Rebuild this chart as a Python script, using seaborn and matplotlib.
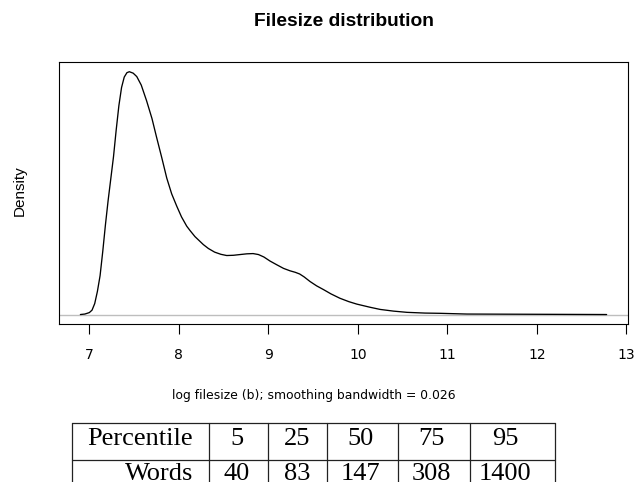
import matplotlib
matplotlib.use("Agg")
import matplotlib.pyplot as plt
import seaborn as sns
import pandas as pd

# density curve of log filesize
log_size = [6.90, 6.95, 7.00, 7.03, 7.06, 7.09, 7.12, 7.15, 7.18, 7.21,
            7.24, 7.27, 7.30, 7.33, 7.36, 7.39, 7.42, 7.447, 7.49, 7.53,
            7.58, 7.64, 7.70, 7.75, 7.81, 7.865, 7.92, 7.977, 8.03, 8.088,
            8.125, 8.18, 8.237, 8.274, 8.33, 8.40, 8.47, 8.535, 8.61, 8.684,
            8.76, 8.83, 8.89, 8.95, 9.02, 9.094, 9.17, 9.243, 9.30, 9.35,
            9.40, 9.466, 9.54, 9.615, 9.70, 9.80, 9.90, 9.988, 10.136, 10.25,
            10.40, 10.55, 10.75, 10.92, 11.22, 11.6, 12.0, 12.4, 12.78]
density = [0.000, 0.002, 0.008, 0.018, 0.045, 0.095, 0.160, 0.260, 0.370, 0.470,
           0.560, 0.650, 0.760, 0.860, 0.935, 0.978, 0.996, 1.000, 0.994, 0.980,
           0.945, 0.880, 0.807, 0.732, 0.645, 0.562, 0.497, 0.446, 0.402, 0.364,
           0.346, 0.321, 0.301, 0.288, 0.272, 0.257, 0.248, 0.243, 0.244, 0.247,
           0.250, 0.251, 0.247, 0.237, 0.220, 0.205, 0.190, 0.180, 0.174, 0.167,
           0.155, 0.136, 0.118, 0.103, 0.085, 0.067, 0.053, 0.043, 0.030, 0.021,
           0.014, 0.009, 0.006, 0.005, 0.002, 0.0015, 0.001, 0.0005, 0.000]

# percentile table under the plot
percentiles = [5, 25, 50, 75, 95]
words = [40, 83, 147, 308, 1400]

df = pd.DataFrame({"log_size": log_size, "density": density})

sns.set_style("white")
plt.rcParams["font.family"] = ["Liberation Sans", "DejaVu Sans"]
plt.rcParams["text.color"] = "black"
plt.rcParams["xtick.color"] = "black"

W, H = 640, 482
fig = plt.figure(figsize=(W / 100, H / 100), dpi=100)
ax = fig.add_axes([59 / W, 1 - 324 / H, (628 - 59) / W, (324 - 62) / H])

ax.axhline(0, color="#bebebe", lw=1.0, zorder=1)
sns.lineplot(data=df, x="log_size", y="density", sort=False, color="black",
             lw=0.95, ax=ax, zorder=2)

ax.set_xlim(6.661, 13.019)
ax.set_ylim(-0.039, 1.040)
ax.set_xticks(range(7, 14))
ax.set_yticks([])
ax.set_xlabel("")
ax.set_ylabel("")
ax.tick_params(axis="x", direction="out", length=7.2, width=0.8, pad=10,
               labelsize=10, bottom=True, color="black", labelcolor="black")
for lab in ax.get_xticklabels():
    lab.set_fontfamily("DejaVu Sans")
for s in ax.spines.values():
    s.set_visible(True)
    s.set_color("black")
    s.set_linewidth(0.8)

fig.text(343.5 / W, 1 - 22 / H, "Filesize distribution", ha="center",
         va="center", fontsize=13.8, fontweight="bold")
fig.text(314 / W, 1 - 395 / H, "log filesize (b); smoothing bandwidth = 0.026",
         ha="center", va="center", fontsize=8.9, family="DejaVu Sans")
fig.text(20 / W, 1 - 191 / H, "Density", ha="center", va="center",
         rotation=90, fontsize=11)

# table drawn in pixel coordinates on an overlay axes
tab = fig.add_axes([0, 0, 1, 1])
tab.set_xlim(0, W)
tab.set_ylim(H, 0)
tab.axis("off")
col_edges = [71.7, 209.3, 268.3, 326.7, 398.3, 470, 555]
row_edges = [422.7, 460, 497.3]
col_text = [236.7, 297.5, 360.5, 431, 505]
for yy in row_edges:
    tab.plot([col_edges[0], col_edges[-1]], [yy, yy], color="#222222", lw=0.9)
for xx in col_edges:
    tab.plot([xx, xx], [row_edges[0], row_edges[-1]], color="#222222", lw=0.9)
serif = dict(family="Liberation Serif", fontsize=19, va="baseline")
tab.text(193, 445, "Percentile", ha="right", **serif)
tab.text(193, 480, "Words", ha="right", **serif)
for cx, p, w in zip(col_text, percentiles, words):
    tab.text(cx, 445, str(p), ha="center", **serif)
    tab.text(cx, 480, str(w), ha="center", **serif)

fig.savefig("out.png", dpi=100)
